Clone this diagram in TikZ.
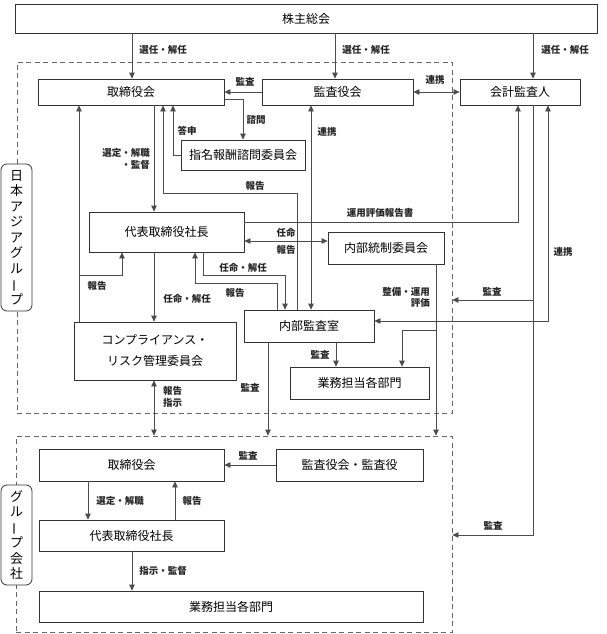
\documentclass[tikz,border=0pt]{standalone}
\usepackage{fontspec}
\setmainfont{Noto Sans CJK JP}
\usepackage{graphicx}
\usetikzlibrary{arrows.meta}
\newcommand{\vbar}{\rotatebox[origin=c]{90}{ー}}
\begin{document}
\begin{tikzpicture}[x=1pt,y=-1pt,
  box/.style={draw=black!80, line width=0.8pt, fill=white, inner sep=0pt, font=\fontsize{12}{14}\selectfont, align=center},
  lbl/.style={font=\fontsize{9.5}{11.5}\selectfont\bfseries, text=black!85, inner sep=0pt},
  ln/.style={draw=black!70, line width=0.8pt},
  arr/.style={ln, -{Triangle[length=6pt,width=5.5pt]}},
  darr/.style={ln, {Triangle[length=6pt,width=5.5pt]}-{Triangle[length=6pt,width=5.5pt]}},
  grp/.style={draw=black!60, line width=0.8pt, dash pattern=on 5pt off 3.5pt, inner sep=0pt},
  vlab/.style={draw=black!80, line width=0.8pt, fill=white, rounded corners=6pt, inner sep=0pt, font=\fontsize{13}{15.5}\selectfont, align=center}]
\useasboundingbox (0,0) rectangle (607,634);

% group outlines
\node[grp, minimum width=435pt, minimum height=351pt] (grpA) at (234.5,237.5) {};
\node[grp, minimum width=436pt, minimum height=196pt] (grpB) at (234,534) {};

% boxes
\node[box, minimum width=582pt, minimum height=29pt] (kabu) at (306,18.5) {株主総会};
\node[box, minimum width=186pt, minimum height=26pt] (torA) at (131,92) {取締役会};
\node[box, minimum width=151pt, minimum height=26pt] (kansa) at (337.5,92) {監査役会};
\node[box, minimum width=120pt, minimum height=26pt] (kaikei) at (520,92) {会計監査人};
\node[box, minimum width=124pt, minimum height=30pt] (shimei) at (243,155) {指名報酬諮問委員会};
\node[box, minimum width=155pt, minimum height=40pt] (daihyoA) at (166.5,232) {代表取締役社長};
\node[box, minimum width=116pt, minimum height=32pt] (naibuTosei) at (386,248) {内部統制委員会};
\node[box, minimum width=162pt, minimum height=58pt, font=\fontsize{12}{21}\selectfont] (comp) at (155,351) {コンプライアンス・\\リスク管理委員会};
\node[box, minimum width=130pt, minimum height=32pt] (naibuKansa) at (309,326) {内部監査室};
\node[box, minimum width=139pt, minimum height=32pt] (gyomuA) at (359.5,383) {業務担当各部門};
\node[box, minimum width=185pt, minimum height=32pt] (torB) at (131.5,465) {取締役会};
\node[box, minimum width=147pt, minimum height=32pt] (kansaB) at (349.5,465) {監査役会・監査役};
\node[box, minimum width=185pt, minimum height=31pt] (daihyoB) at (131.5,535.5) {代表取締役社長};
\node[box, minimum width=384pt, minimum height=31pt] (gyomuB) at (231,606.5) {業務担当各部門};

% vertical labels
\node[vlab, minimum width=31pt, minimum height=147pt] (jpLabel) at (16.5,237.5) {日\\本\\ア\\ジ\\ア\\グ\\ル\\\vbar\\プ};
\node[vlab, minimum width=31pt, minimum height=100pt] (grpLabel) at (16.5,535) {グ\\ル\\\vbar\\プ\\会\\社};

% routing coordinates
\coordinate (pSel1) at (132,0);
\coordinate (pSel2) at (335,0);
\coordinate (pSel3) at (533,0);
\coordinate (pShimonY) at (0,99);
\coordinate (pShimonX) at (243,0);
\coordinate (pToshinX) at (173,0);
\coordinate (pRep1X) at (163,0);
\coordinate (pRep1Y) at (0,193);
\coordinate (pRep1X2) at (297,0);
\coordinate (pSenX) at (154,0);
\coordinate (pCompX) at (79,0);
\coordinate (pCompY) at (0,275);
\coordinate (pCompX2) at (122,0);
\coordinate (pUnyoY) at (0,222);
\coordinate (pUnyoX) at (518,0);
\coordinate (pNinY) at (0,241);
\coordinate (pNinX) at (203,0);
\coordinate (pNinX2) at (285,0);
\coordinate (pRep2X) at (277,0);
\coordinate (pRep2Y) at (0,283);
\coordinate (pRep2X2) at (195,0);
\coordinate (pRenX) at (311,0);
\coordinate (pSeiX) at (436,0);
\coordinate (pSeiY) at (0,330);
\coordinate (pSeiX2) at (402,0);
\coordinate (pK1X) at (336,0);
\coordinate (pK2X) at (268,0);
\coordinate (pKaY1) at (0,300);
\coordinate (pKaY2) at (0,535);
\coordinate (pRenRX) at (548,0);
\coordinate (pRenRY) at (0,321);
\coordinate (pBSelX) at (88,0);
\coordinate (pBRepX) at (175,0);

% connectors
\draw[arr] (kabu.south -| pSel1) -- (torA.north -| pSel1);
\draw[arr] (kabu.south -| pSel2) -- (kansa.north -| pSel2);
\draw[arr] (kabu.south -| pSel3) -- (kaikei.north -| pSel3);
\draw[arr] (kansa.west) -- (torA.east);
\draw[darr] (kansa.east) -- (kaikei.west);
\draw[arr] (torA.east |- pShimonY) -| (shimei.north -| pShimonX);
\draw[arr] (shimei.west) -| (torA.south -| pToshinX);
\draw[arr] (naibuKansa.north -| pRep1X2) |- (pRep1X |- pRep1Y) -- (torA.south -| pRep1X);
\draw[arr] (torA.south -| pSenX) -- (daihyoA.north -| pSenX);
\draw[arr] (daihyoA.south -| pSenX) -- (comp.north -| pSenX);
\draw[darr] (comp.south -| pSenX) -- (grpB.north -| pSenX);
\draw[arr] (comp.north -| pCompX) -- (torA.south -| pCompX);
\draw[arr] (pCompX |- pCompY) -| (daihyoA.south -| pCompX2);
\draw[arr] (daihyoA.east |- pUnyoY) -| (kaikei.south -| pUnyoX);
\draw[darr] (daihyoA.east |- pNinY) -- (naibuTosei.west |- pNinY);
\draw[arr] (daihyoA.south -| pNinX) |- (pNinX2 |- pCompY) -- (naibuKansa.north -| pNinX2);
\draw[arr] (naibuKansa.north -| pRep2X) |- (pRep2X2 |- pRep2Y) -- (daihyoA.south -| pRep2X2);
\draw[darr] (kansa.south -| pRenX) -- (naibuKansa.north -| pRenX);
\draw[arr] (naibuTosei.south -| pSeiX) -- (grpB.north -| pSeiX);
\draw[arr] (pSeiX |- pSeiY) -| (gyomuA.north -| pSeiX2);
\draw[arr] (naibuKansa.south -| pK1X) -- (gyomuA.north -| pK1X);
\draw[arr] (naibuKansa.south -| pK2X) -- (grpB.north -| pK2X);
\draw[arr] (kaikei.south -| pSel3) |- (grpB.east |- pKaY2);
\draw[arr] (pSel3 |- pKaY1) -- (grpA.east |- pKaY1);
\draw[darr] (kaikei.south -| pRenRX) |- (naibuKansa.east |- pRenRY);
\draw[arr] (kansaB.west) -- (torB.east);
\draw[arr] (torB.south -| pBSelX) -- (daihyoB.north -| pBSelX);
\draw[arr] (daihyoB.north -| pBRepX) -- (torB.south -| pBRepX);
\draw[arr] (daihyoB.south -| pSel1) -- (gyomuB.north -| pSel1);

% labels
\node[lbl] (l1) at (163,50) {選任・解任};
\node[lbl] (l2) at (366,50) {選任・解任};
\node[lbl] (l3) at (565,50) {選任・解任};
\node[lbl] (l4) at (245,82) {監査};
\node[lbl] (l5) at (435,80) {連携};
\node[lbl] (l6) at (256,120) {諮問};
\node[lbl] (l7) at (187,131) {答申};
\node[lbl, anchor=east, align=right] (l8) at (150,159) {選定・解職\\・監督};
\node[lbl] (l9) at (327,132) {連携};
\node[lbl] (l10) at (255,186) {報告};
\node[lbl] (l11) at (380,213) {運用評価報告書};
\node[lbl] (l12) at (286,233) {任命};
\node[lbl] (l13) at (286,250) {報告};
\node[lbl] (l14) at (243,268) {任命・解任};
\node[lbl] (l15) at (235,293) {報告};
\node[lbl] (l16) at (97,286) {報告};
\node[lbl] (l17) at (187,299) {任命・解任};
\node[lbl] (l18) at (563,252) {連携};
\node[lbl, anchor=east, align=right] (l19) at (430,297.5) {整備・運用\\評価};
\node[lbl] (l20) at (492,292) {監査};
\node[lbl] (l21) at (320,355) {監査};
\node[lbl] (l22) at (250,388) {監査};
\node[lbl, anchor=west, align=left] (l23) at (163,397) {報告\\指示};
\node[lbl] (l24) at (248,456) {監査};
\node[lbl] (l25) at (120,501) {選定・解職};
\node[lbl] (l26) at (192,501) {報告};
\node[lbl] (l27) at (163,571) {指示・監督};
\node[lbl] (l28) at (493,526) {監査};
\end{tikzpicture}
\end{document}
